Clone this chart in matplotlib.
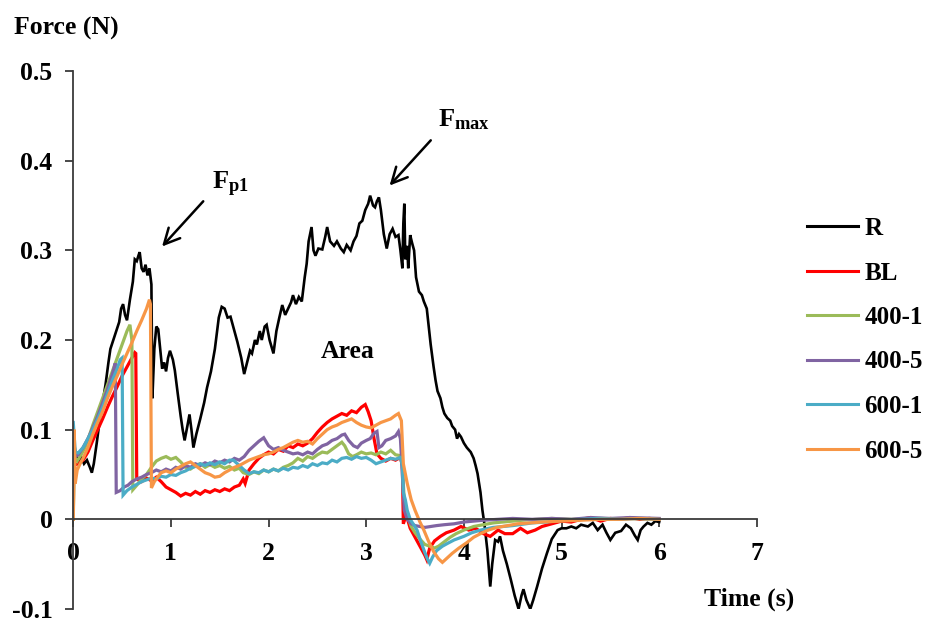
import numpy as np
import matplotlib
matplotlib.use("Agg")
import matplotlib.pyplot as plt
from matplotlib.ticker import FuncFormatter

plt.rcParams['font.family'] = ['Liberation Serif', 'DejaVu Serif']
plt.rcParams['font.weight'] = 'bold'
plt.rcParams['axes.unicode_minus'] = False
plt.rcParams['mathtext.fontset'] = 'custom'
plt.rcParams['mathtext.rm'] = 'Liberation Serif:bold'
plt.rcParams['mathtext.bf'] = 'Liberation Serif:bold'
plt.rcParams['mathtext.it'] = 'Liberation Serif:bold'

# ---- data (time s, force N) ----
R_pts = [(0.00,0.095),(0.02,0.075),(0.05,0.065),(0.08,0.07),(0.11,0.062),(0.14,0.066),(0.17,0.058),(0.19,0.052),
         (0.21,0.062),(0.24,0.085),(0.27,0.11),(0.30,0.13),(0.33,0.15),(0.36,0.175),(0.38,0.19),(0.41,0.2),(0.44,0.21),
         (0.47,0.22),(0.49,0.235),(0.51,0.24),(0.53,0.228),(0.55,0.222),(0.58,0.245),(0.61,0.265),(0.63,0.29),(0.65,0.288),
         (0.67,0.295),(0.68,0.298),(0.70,0.28),(0.72,0.276),(0.74,0.284),(0.76,0.272),(0.78,0.28),(0.80,0.262),(0.81,0.135),
         (0.83,0.19),(0.85,0.215),(0.87,0.212),(0.89,0.19),(0.91,0.168),(0.93,0.175),(0.95,0.165),(0.97,0.18),(0.99,0.188),
         (1.02,0.178),(1.04,0.166),(1.07,0.14),(1.10,0.115),(1.12,0.1),(1.14,0.088),(1.17,0.105),(1.19,0.117),(1.21,0.1),
         (1.23,0.08),(1.26,0.095),(1.30,0.112),(1.34,0.13),(1.37,0.147),(1.41,0.165),(1.45,0.19),(1.49,0.225),(1.52,0.237),
         (1.55,0.235),(1.58,0.225),(1.61,0.226),(1.65,0.21),(1.68,0.198),(1.72,0.18),(1.75,0.162),(1.78,0.175),(1.81,0.188),
         (1.83,0.185),(1.86,0.2),(1.88,0.195),(1.91,0.21),(1.93,0.2),(1.96,0.215),(1.98,0.217),(2.01,0.2),(2.05,0.185),
         (2.08,0.21),(2.11,0.225),(2.14,0.239),(2.17,0.228),(2.20,0.235),(2.23,0.242),(2.25,0.25),(2.28,0.24),(2.31,0.248),
         (2.34,0.243),(2.37,0.27),(2.39,0.285),(2.41,0.31),(2.44,0.326),(2.46,0.3),(2.48,0.294),(2.51,0.302),(2.55,0.301),
         (2.58,0.315),(2.60,0.326),(2.63,0.31),(2.67,0.305),(2.70,0.31),(2.74,0.302),(2.77,0.298),(2.80,0.306),(2.84,0.3),
         (2.87,0.31),(2.90,0.316),(2.93,0.33),(2.96,0.333),(2.99,0.345),(3.02,0.352),(3.04,0.361),(3.07,0.35),(3.09,0.348),
         (3.11,0.355),(3.13,0.359),(3.15,0.345),(3.18,0.318),(3.21,0.302),(3.24,0.318),(3.27,0.324),(3.30,0.315),(3.33,0.317),
         (3.35,0.3),(3.37,0.28),(3.38,0.33),(3.39,0.352),(3.40,0.29),(3.42,0.305),(3.43,0.28),(3.45,0.317),(3.47,0.308),
         (3.49,0.3),(3.51,0.27),(3.54,0.254),(3.57,0.25),(3.59,0.243),(3.62,0.235),(3.64,0.215),(3.66,0.195),(3.69,0.17),
         (3.71,0.155),(3.73,0.143),(3.76,0.135),(3.78,0.125),(3.80,0.118),(3.83,0.113),(3.86,0.11),(3.88,0.104),(3.91,0.1),
         (3.93,0.09),(3.95,0.095),(3.97,0.092),(4.00,0.085),(4.03,0.08),(4.07,0.075),(4.10,0.068),(4.12,0.06),(4.14,0.051),
         (4.17,0.03),(4.19,0.01),(4.21,-0.005),(4.24,-0.034),(4.27,-0.075),(4.29,-0.05),(4.32,-0.023),(4.35,-0.025),
         (4.37,-0.019),(4.40,-0.035),(4.44,-0.05),(4.48,-0.067),(4.52,-0.085),(4.56,-0.1),(4.59,-0.085),(4.61,-0.078),
         (4.64,-0.09),(4.68,-0.1),(4.71,-0.09),(4.75,-0.075),(4.80,-0.055),(4.85,-0.038),(4.90,-0.022),(4.96,-0.012),
         (5.00,-0.01),(5.05,-0.01),(5.10,-0.008),(5.15,-0.01),(5.20,-0.006),(5.27,-0.008),(5.32,-0.004),(5.37,-0.012),
         (5.42,-0.006),(5.46,-0.015),(5.50,-0.023),(5.55,-0.015),(5.61,-0.013),(5.66,-0.006),(5.71,-0.01),(5.75,-0.018),
         (5.78,-0.023),(5.81,-0.012),(5.84,-0.008),(5.88,-0.004),(5.92,-0.006),(5.96,-0.002),(6.00,-0.003)]

BL_pts = [(0.00,0.0),(0.005,0.06),(0.05,0.062),(0.1,0.066),(0.15,0.075),(0.2,0.088),(0.25,0.1),(0.3,0.112),(0.35,0.125),
          (0.4,0.137),(0.45,0.148),(0.5,0.16),(0.55,0.17),(0.6,0.18),(0.63,0.186),(0.64,0.185),(0.65,0.045),(0.7,0.042),
          (0.75,0.046),(0.8,0.043),(0.85,0.047),(0.9,0.042),(0.95,0.036),(1.0,0.033),(1.05,0.03),(1.1,0.026),(1.15,0.029),
          (1.2,0.027),(1.25,0.031),(1.3,0.028),(1.35,0.032),(1.4,0.03),(1.45,0.033),(1.5,0.031),(1.55,0.034),(1.6,0.032),
          (1.65,0.036),(1.7,0.038),(1.74,0.045),(1.76,0.04),(1.8,0.055),(1.85,0.062),(1.9,0.068),(1.95,0.072),(2.0,0.075),
          (2.05,0.073),(2.1,0.078),(2.15,0.076),(2.2,0.082),(2.25,0.08),(2.3,0.084),(2.35,0.082),(2.4,0.085),(2.45,0.09),
          (2.5,0.097),(2.55,0.103),(2.6,0.108),(2.65,0.112),(2.7,0.115),(2.75,0.118),(2.8,0.116),(2.85,0.121),(2.9,0.119),
          (2.95,0.125),(2.99,0.128),(3.02,0.12),(3.05,0.11),(3.08,0.09),(3.11,0.073),(3.15,0.068),(3.2,0.065),(3.25,0.068),
          (3.3,0.066),(3.35,0.069),(3.37,0.06),(3.38,-0.005),(3.41,0.005),(3.45,-0.01),(3.5,-0.02),(3.55,-0.03),(3.6,-0.04),
          (3.62,-0.045),(3.65,-0.032),(3.7,-0.024),(3.76,-0.019),(3.82,-0.015),(3.9,-0.012),(3.97,-0.008),(4.05,-0.012),
          (4.12,-0.01),(4.2,-0.016),(4.27,-0.019),(4.35,-0.012),(4.42,-0.016),(4.5,-0.016),(4.58,-0.01),(4.65,-0.015),
          (4.73,-0.012),(4.8,-0.008),(4.9,-0.005),(5.0,-0.002),(5.1,-0.003),(5.2,0.0),(5.3,0.002),(5.4,-0.002),(5.5,0.001),
          (5.6,0.0),(5.7,0.002),(5.8,0.0),(5.9,0.001),(6.0,0.0)]

G1_pts = [(0.0,0.0),(0.01,0.07),(0.04,0.065),(0.08,0.072),(0.12,0.08),(0.16,0.092),(0.2,0.105),(0.25,0.12),(0.3,0.135),
          (0.35,0.15),(0.4,0.165),(0.45,0.18),(0.5,0.195),(0.55,0.21),(0.58,0.217),(0.6,0.2),(0.61,0.033),(0.65,0.038),
          (0.7,0.045),(0.75,0.05),(0.8,0.058),(0.85,0.065),(0.9,0.068),(0.95,0.07),(1.0,0.067),(1.05,0.069),(1.1,0.064),
          (1.15,0.058),(1.2,0.056),(1.25,0.06),(1.3,0.062),(1.35,0.058),(1.4,0.061),(1.45,0.058),(1.5,0.06),(1.55,0.057),
          (1.6,0.059),(1.65,0.055),(1.7,0.057),(1.74,0.052),(1.8,0.05),(1.85,0.053),(1.9,0.051),(1.95,0.055),(2.0,0.053),
          (2.05,0.056),(2.1,0.054),(2.15,0.058),(2.2,0.06),(2.25,0.063),(2.3,0.068),(2.35,0.065),(2.4,0.07),(2.45,0.068),
          (2.5,0.072),(2.55,0.075),(2.6,0.074),(2.65,0.078),(2.7,0.082),(2.75,0.086),(2.78,0.082),(2.82,0.073),(2.86,0.07),
          (2.9,0.072),(2.95,0.075),(3.0,0.073),(3.05,0.074),(3.1,0.072),(3.15,0.075),(3.2,0.073),(3.25,0.077),(3.3,0.072),
          (3.35,0.071),(3.37,0.06),(3.39,0.02),(3.42,0.005),(3.46,-0.008),(3.5,-0.015),(3.55,-0.022),(3.6,-0.028),
          (3.65,-0.03),(3.7,-0.032),(3.74,-0.03),(3.8,-0.025),(3.86,-0.02),(3.92,-0.016),(4.0,-0.012),(4.1,-0.008),
          (4.2,-0.006),(4.3,-0.004),(4.4,-0.003),(4.5,-0.002),(4.6,-0.001),(4.75,0.0),(4.9,0.001),(5.1,0.0),(5.3,0.001),
          (5.5,0.0),(5.7,0.001),(6.0,0.0)]

G5_pts = [(0.0,0.09),(0.02,0.07),(0.05,0.072),(0.1,0.08),(0.15,0.09),(0.2,0.102),(0.25,0.115),(0.3,0.13),(0.35,0.145),
          (0.4,0.162),(0.43,0.174),(0.44,0.03),(0.48,0.032),(0.52,0.036),(0.56,0.038),(0.6,0.042),(0.65,0.045),(0.7,0.047),
          (0.75,0.05),(0.8,0.052),(0.85,0.055),(0.9,0.053),(0.95,0.056),(1.0,0.054),(1.05,0.058),(1.1,0.056),(1.15,0.06),
          (1.2,0.058),(1.25,0.062),(1.3,0.06),(1.35,0.063),(1.4,0.061),(1.45,0.065),(1.5,0.063),(1.55,0.066),(1.6,0.064),
          (1.65,0.068),(1.7,0.066),(1.75,0.07),(1.8,0.077),(1.85,0.082),(1.9,0.087),(1.95,0.091),(2.0,0.082),(2.05,0.078),
          (2.1,0.08),(2.15,0.077),(2.2,0.075),(2.25,0.073),(2.3,0.074),(2.35,0.072),(2.4,0.075),(2.45,0.073),(2.5,0.078),
          (2.55,0.082),(2.6,0.084),(2.65,0.088),(2.7,0.09),(2.75,0.094),(2.78,0.095),(2.82,0.088),(2.87,0.082),(2.91,0.08),
          (2.95,0.085),(3.0,0.088),(3.04,0.09),(3.08,0.096),(3.11,0.098),(3.13,0.08),(3.16,0.082),(3.2,0.088),(3.25,0.09),
          (3.3,0.093),(3.33,0.098),(3.35,0.09),(3.37,0.05),(3.39,0.01),(3.42,0.0),(3.46,-0.005),(3.5,-0.007),(3.55,-0.008),
          (3.6,-0.009),(3.66,-0.008),(3.72,-0.007),(3.8,-0.006),(3.9,-0.005),(4.0,-0.003),(4.1,-0.002),(4.2,-0.001),
          (4.35,0.0),(4.5,0.001),(4.7,0.0),(4.9,0.001),(5.1,0.0),(5.3,0.002),(5.5,0.001),(5.7,0.002),(6.0,0.001)]

C1_pts = [(0.0,0.108),(0.02,0.075),(0.05,0.074),(0.1,0.08),(0.15,0.09),(0.2,0.1),(0.25,0.112),(0.3,0.125),(0.35,0.14),
          (0.4,0.155),(0.45,0.168),(0.48,0.178),(0.5,0.18),(0.51,0.027),(0.55,0.032),(0.6,0.036),(0.65,0.039),(0.7,0.042),
          (0.75,0.044),(0.8,0.046),(0.85,0.045),(0.9,0.048),(0.95,0.047),(1.0,0.05),(1.05,0.049),(1.1,0.052),(1.15,0.054),
          (1.2,0.057),(1.25,0.059),(1.3,0.062),(1.35,0.06),(1.4,0.063),(1.45,0.061),(1.5,0.064),(1.55,0.062),(1.6,0.066),
          (1.64,0.066),(1.7,0.06),(1.75,0.055),(1.8,0.051),(1.85,0.053),(1.9,0.052),(1.95,0.055),(2.0,0.053),(2.05,0.056),
          (2.1,0.054),(2.15,0.057),(2.2,0.055),(2.25,0.058),(2.3,0.057),(2.35,0.06),(2.4,0.058),(2.45,0.062),(2.5,0.06),
          (2.55,0.063),(2.6,0.062),(2.65,0.066),(2.7,0.064),(2.75,0.068),(2.8,0.069),(2.85,0.067),(2.9,0.07),(2.95,0.068),
          (3.0,0.069),(3.05,0.066),(3.1,0.062),(3.15,0.064),(3.2,0.066),(3.25,0.068),(3.3,0.067),(3.35,0.069),(3.37,0.06),
          (3.38,0.03),(3.4,0.022),(3.42,0.01),(3.45,0.0),(3.48,-0.005),(3.52,-0.012),(3.56,-0.025),(3.6,-0.037),
          (3.63,-0.045),(3.65,-0.049),(3.68,-0.042),(3.72,-0.035),(3.78,-0.03),(3.83,-0.027),(3.9,-0.023),(4.0,-0.019),
          (4.08,-0.015),(4.17,-0.012),(4.3,-0.009),(4.5,-0.007),(4.7,-0.004),(4.85,-0.003),(5.0,-0.001),(5.2,0.0),
          (5.4,0.001),(5.6,0.0),(5.8,0.001),(6.0,0.0)]

C5_pts = [(0.0,0.0),(0.01,0.1),(0.02,0.04),(0.04,0.055),(0.07,0.062),(0.1,0.068),(0.15,0.08),(0.2,0.095),(0.25,0.108),
          (0.3,0.12),(0.35,0.135),(0.4,0.148),(0.45,0.16),(0.5,0.173),(0.55,0.185),(0.6,0.197),(0.65,0.21),(0.7,0.222),
          (0.75,0.235),(0.78,0.245),(0.79,0.24),(0.8,0.035),(0.83,0.042),(0.87,0.048),(0.9,0.052),(0.95,0.054),(1.0,0.052),
          (1.05,0.056),(1.1,0.059),(1.15,0.062),(1.2,0.064),(1.25,0.06),(1.3,0.056),(1.35,0.052),(1.4,0.05),(1.45,0.047),
          (1.5,0.048),(1.55,0.052),(1.6,0.055),(1.65,0.058),(1.7,0.06),(1.75,0.063),(1.8,0.066),(1.85,0.068),(1.9,0.07),
          (1.95,0.072),(2.0,0.073),(2.05,0.075),(2.1,0.078),(2.15,0.08),(2.2,0.083),(2.25,0.086),(2.3,0.088),(2.35,0.086),
          (2.4,0.087),(2.45,0.084),(2.5,0.09),(2.55,0.095),(2.6,0.1),(2.65,0.103),(2.7,0.105),(2.75,0.108),(2.8,0.11),
          (2.85,0.112),(2.9,0.108),(2.95,0.105),(3.0,0.103),(3.05,0.102),(3.1,0.105),(3.15,0.108),(3.2,0.11),(3.25,0.112),
          (3.3,0.116),(3.33,0.118),(3.36,0.11),(3.38,0.062),(3.42,0.04),(3.46,0.022),(3.5,0.01),(3.55,-0.003),(3.59,-0.012),
          (3.64,-0.025),(3.69,-0.036),(3.74,-0.044),(3.78,-0.048),(3.82,-0.044),(3.88,-0.038),(3.95,-0.032),(4.03,-0.026),
          (4.1,-0.02),(4.17,-0.016),(4.25,-0.012),(4.34,-0.009),(4.45,-0.007),(4.55,-0.005),(4.68,-0.004),(4.8,-0.003),
          (5.0,-0.002),(5.2,-0.001),(5.4,0.0),(5.6,0.0),(5.8,0.001),(6.0,0.0)]

series_labels = ["R", "BL", "400-1", "400-5", "600-1", "600-5"]
series_colors = ["#000000", "#FF0000", "#9BBB59", "#8064A2", "#4BACC6", "#F79646"]
series_data = [R_pts, BL_pts, G1_pts, G5_pts, C1_pts, C5_pts]
y_ticks = [-0.1, 0.0, 0.1, 0.2, 0.3, 0.4, 0.5]
x_ticks = [0, 1, 2, 3, 4, 5, 6, 7]

fig = plt.figure(figsize=(9.3, 6.23), dpi=100)
ax = fig.add_axes([0.0788, 0.0225, 0.735, 0.8635])

for pts, lab, col in zip(series_data, series_labels, series_colors):
    a = np.array(pts)
    ax.plot(a[:, 0], a[:, 1], color=col, lw=1.9 if lab == "R" else 2.3, label=lab, solid_joinstyle='miter')

ax.set_xlim(0, 7)
ax.set_ylim(-0.1, 0.5)
ax.set_xticks(x_ticks)
ax.set_yticks(y_ticks)
ax.yaxis.set_major_formatter(FuncFormatter(lambda v, p: "0" if abs(v) < 1e-9 else f"{v:.1f}"))
ax.spines['top'].set_visible(False)
ax.spines['right'].set_visible(False)
ax.spines['bottom'].set_position(('data', 0))
for s in ('left', 'bottom'):
    ax.spines[s].set_color('#3a3a3a')
    ax.spines[s].set_linewidth(1.3)
ax.tick_params(axis='both', direction='out', length=6, width=1.3, color='#3a3a3a', labelsize=18.5)
ax.tick_params(axis='x', pad=10)
ax.tick_params(axis='y', pad=9)
for t in ax.get_xticklabels() + ax.get_yticklabels():
    t.set_fontweight('bold')

fig.text(0.015, 0.955, "Force (N)", fontsize=18.5, fontweight='bold', ha='left', va='center')
fig.text(0.805, 0.038, "Time (s)", fontsize=18.5, fontweight='bold', ha='center', va='center')
ax.text(2.81, 0.187, "Area", fontsize=18.5, fontweight='bold', ha='center', va='center')
ax.text(1.42, 0.373, r"F$_{\mathregular{p1}}$", fontsize=19, ha='left', va='center')
ax.text(3.74, 0.446, r"F$_{\mathregular{max}}$", fontsize=19, ha='left', va='center')
ax.annotate("", xy=(0.89, 0.302), xytext=(1.35, 0.357),
            arrowprops=dict(arrowstyle='->', color='black', lw=1.8, mutation_scale=28))
ax.annotate("", xy=(3.22, 0.370), xytext=(3.68, 0.425),
            arrowprops=dict(arrowstyle='->', color='black', lw=1.8, mutation_scale=28))

leg = fig.legend(loc='upper left', bbox_to_anchor=(807 / 930, 1 - 217 / 623), frameon=False,
                 prop={'size': 18, 'weight': 'bold'}, handlelength=2.05, handletextpad=0.25,
                 labelspacing=0.86, borderpad=0, borderaxespad=0)
for h in leg.get_lines():
    h.set_linewidth(2.2)

fig.savefig("out.png", dpi=100)
